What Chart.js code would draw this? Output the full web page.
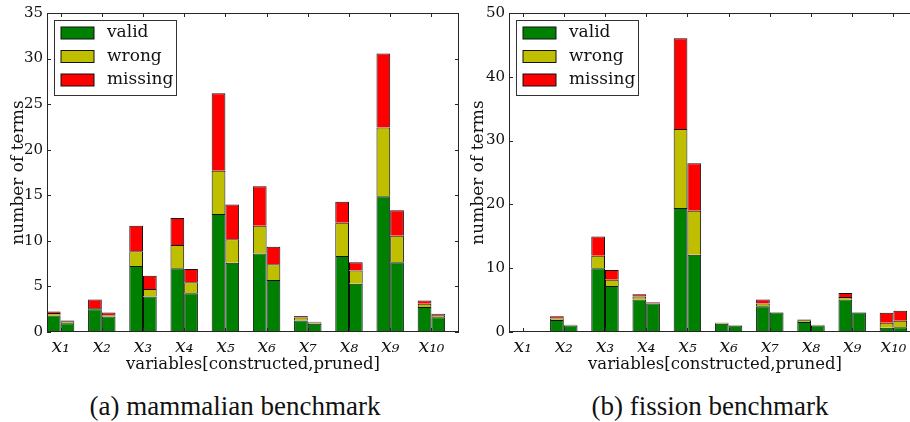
<!DOCTYPE html>
<html>
<head>
<meta charset="utf-8">
<script src="https://cdn.jsdelivr.net/npm/chart.js@4.4.1/dist/chart.umd.min.js"></script>
<style>
  html, body { margin: 0; padding: 0; background: #fff; }
  #wrap { position: relative; width: 910px; height: 422px; overflow: hidden; background: #fff; }
  .cv { position: absolute; top: 0; }
  .cap { position: absolute; top: 391px; font-family: "Liberation Serif", serif; font-size: 27px; color: #111; white-space: nowrap; transform: translateX(-50%); }
</style>
</head>
<body>
<div id="wrap">
  <div class="cv" style="left:0;width:470px;height:380px;"><canvas id="c1"></canvas></div>
  <div class="cv" style="left:460px;width:461px;height:380px;"><canvas id="c2"></canvas></div>
  <div class="cap" style="left:235px;">(a) mammalian benchmark</div>
  <div class="cap" style="left:710px;">(b) fission benchmark</div>
</div>
<script>
// ---------- data ----------
const tickLabels = ['x\u2081','x\u2082','x\u2083','x\u2084','x\u2085','x\u2086','x\u2087','x\u2088','x\u2089','x\u2081\u2080'];
const seriesNames = ['valid', 'wrong', 'missing'];

// (a) mammalian benchmark
const mamConsValid   = [1.8, 2.5, 7.25, 7.0, 12.95, 8.6, 1.25, 8.35, 14.9, 2.73];
const mamConsWrong   = [0.28, 0.12, 1.6, 2.55, 4.75, 3.05, 0.35, 3.65, 7.55, 0.37];
const mamConsMissing = [0.18, 0.95, 2.8, 2.95, 8.5, 4.35, 0.15, 2.3, 8.1, 0.36];
const mamPrunValid   = [0.95, 1.7, 3.9, 4.25, 7.6, 5.7, 0.9, 5.3, 7.65, 1.63];
const mamPrunWrong   = [0.22, 0.15, 0.83, 1.2, 2.58, 1.72, 0.13, 1.45, 2.9, 0.22];
const mamPrunMissing = [0.1, 0.3, 1.45, 1.45, 3.82, 1.93, 0.1, 0.9, 2.8, 0.15];

// (b) fission benchmark
const fisConsValid   = [0.06, 1.9, 10.0, 5.1, 19.45, 1.3, 4.05, 1.55, 5.1, 0.65];
const fisConsWrong   = [0, 0.2, 1.95, 0.45, 12.35, 0.15, 0.4, 0.3, 0.4, 0.8];
const fisConsMissing = [0, 0.35, 3.0, 0.35, 14.25, 0.05, 0.65, 0.1, 0.6, 1.58];
const fisPrunValid   = [0.06, 1.0, 7.2, 4.45, 12.1, 1.0, 3.05, 1.0, 3.05, 0.75];
const fisPrunWrong   = [0, 0.08, 1.0, 0.15, 6.9, 0.05, 0.05, 0.1, 0.05, 1.0];
const fisPrunMissing = [0, 0.05, 1.5, 0.1, 7.45, 0, 0, 0.05, 0, 1.58];

const colors = ['#008000', '#bfbf00', '#ff0000'];
const SERIF = '"DejaVu Serif", serif';

function mk(label, arr, color, stack) {
  return {
    label, stack,
    data: arr.map((v, i) => ({ x: i, y: v })),
    backgroundColor: color,
    borderColor: '#111',
    borderWidth: 1,
    categoryPercentage: 0.666,
    barPercentage: 1
  };
}

const framePlugin = {
  id: 'frame',
  afterDraw(chart) {
    const { ctx, chartArea: a, scales: { x, y } } = chart;
    ctx.save();
    ctx.strokeStyle = '#262626';
    ctx.lineWidth = 1;
    ctx.strokeRect(Math.round(a.left) + 0.5, Math.round(a.top) + 0.5,
                   Math.round(a.right - a.left) - 1, Math.round(a.bottom - a.top) - 1);
    const L = 4;
    ctx.beginPath();
    y.ticks.forEach(t => {
      const py = Math.round(y.getPixelForValue(t.value)) + 0.5;
      ctx.moveTo(a.left, py); ctx.lineTo(a.left + L, py);
      ctx.moveTo(a.right, py); ctx.lineTo(a.right - L, py);
    });
    x.ticks.forEach(t => {
      const px = Math.round(x.getPixelForValue(t.value)) + 0.5;
      ctx.moveTo(px, a.bottom); ctx.lineTo(px, a.bottom - L);
      ctx.moveTo(px, a.top); ctx.lineTo(px, a.top + L);
    });
    ctx.stroke();

    // legend (upper left, inside the axes)
    const bx = Math.round(a.left) + 7.5, by = Math.round(a.top) + 7.5;
    ctx.fillStyle = '#fff';
    ctx.fillRect(bx, by, 122, 75);
    ctx.strokeStyle = '#333';
    ctx.strokeRect(bx, by, 122, 75);
    ctx.font = '17px ' + SERIF;
    ctx.textBaseline = 'middle';
    for (let i = 0; i < 3; i++) {
      const ds = chart.data.datasets[i];
      const sy = Math.round(a.top) + 14 + i * 23.5;
      ctx.fillStyle = ds.backgroundColor;
      ctx.fillRect(bx + 6.5, sy, 33, 12);
      ctx.strokeStyle = '#111';
      ctx.lineWidth = 1;
      ctx.strokeRect(bx + 6.5, sy, 33, 12);
      ctx.fillStyle = '#111';
      ctx.fillText(ds.label, bx + 52.5, sy + 6);
    }
    ctx.restore();
  }
};

function makeChart(id, cons, prun, yMax, yStep, yWidth, padRight) {
  const datasets = [];
  for (let k = 0; k < 3; k++) datasets.push(mk(seriesNames[k], cons[k], colors[k], 'c'));
  for (let k = 0; k < 3; k++) datasets.push(mk(seriesNames[k] + ' (pruned)', prun[k], colors[k], 'p'));
  return new Chart(document.getElementById(id), {
    type: 'bar',
    data: { datasets },
    plugins: [framePlugin],
    options: {
      responsive: true,
      maintainAspectRatio: false,
      animation: false,
      layout: { padding: { top: 11, right: padRight, left: 0, bottom: 0 } },
      plugins: { legend: { display: false }, tooltip: { enabled: false } },
      scales: {
        x: {
          type: 'linear',
          stacked: true,
          offset: false,
          min: -0.33, max: 9.67,
          grid: { display: false, drawTicks: false, offset: false },
          border: { display: false },
          afterBuildTicks: s => { s.ticks = tickLabels.map((_, i) => ({ value: i })); },
          ticks: {
            autoSkip: false, maxRotation: 0, minRotation: 0,
            padding: 4,
            color: '#111',
            font: { family: SERIF, size: 19, style: 'italic' },
            callback: v => tickLabels[Math.round(v)] ?? ''
          },
          title: {
            display: true, text: 'variables[constructed,pruned]',
            color: '#111', font: { family: SERIF, size: 16.5 }, padding: { top: 0, bottom: 5 }
          },
          afterFit: s => { s.height = 48; }
        },
        y: {
          stacked: true,
          min: 0, max: yMax,
          grid: { display: false, drawTicks: false },
          border: { display: false },
          ticks: {
            stepSize: yStep, padding: 4, color: '#111',
            font: { family: SERIF, size: 15 }
          },
          title: {
            display: true, text: 'number of terms',
            color: '#111', font: { family: SERIF, size: 17 }, padding: { top: 8, bottom: 0 }
          },
          afterFit: s => { s.width = yWidth; }
        }
      }
    }
  });
}

makeChart('c1',
  [mamConsValid, mamConsWrong, mamConsMissing],
  [mamPrunValid, mamPrunWrong, mamPrunMissing], 35, 5, 47, 11);
makeChart('c2',
  [fisConsValid, fisConsWrong, fisConsMissing],
  [fisPrunValid, fisPrunWrong, fisPrunMissing], 50, 10, 49, 0);
</script>
</body>
</html>
